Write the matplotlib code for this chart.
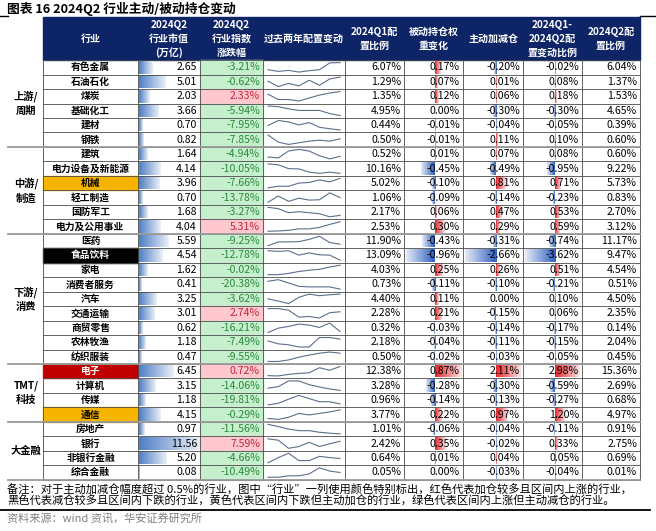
import numpy as np
import matplotlib
matplotlib.use("Agg")
import matplotlib.pyplot as plt
from matplotlib.colors import to_rgb

plt.rcParams['font.family'] = ['Noto Sans CJK SC', 'DejaVu Sans']

# -------------------------------------------------------
# Data
# -------------------------------------------------------

groups = ["上游/\n周期", "中游/\n制造", "下游/\n消费", "TMT/\n科技", "大金融"]
group_sizes = [6, 6, 9, 4, 4]

industries = ["有色金属", "石油石化", "煤炭", "基础化工", "建材", "钢铁",
              "建筑", "电力设备及新能源", "机械", "轻工制造", "国防军工", "电力及公用事业",
              "医药", "食品饮料", "家电", "消费者服务", "汽车", "交通运输",
              "商贸零售", "农林牧渔", "纺织服装",
              "电子", "计算机", "传媒", "通信",
              "房地产", "银行", "非银行金融", "综合金融"]

mkt_cap = [2.65, 5.01, 2.03, 3.66, 0.70, 0.82,
           1.64, 4.14, 3.96, 0.70, 1.68, 4.04,
           5.59, 4.54, 1.62, 0.41, 3.25, 3.01, 0.62, 1.18, 0.47,
           6.45, 3.15, 1.18, 4.15,
           0.97, 11.56, 5.20, 0.08]

index_chg = [-3.21, -0.62, 2.33, -5.94, -7.95, -7.85,
             -4.94, -10.05, -7.66, -13.78, -3.27, 5.31,
             -9.25, -12.78, -0.02, -20.38, -3.62, 2.74, -16.21, -7.49, -9.55,
             0.72, -14.06, -19.81, -0.29,
             -11.56, 7.59, -4.66, -10.49]

w_q1 = [6.07, 1.29, 1.35, 4.95, 0.44, 0.50,
        0.52, 10.16, 5.02, 1.06, 2.17, 2.53,
        11.90, 13.09, 4.03, 0.73, 4.40, 2.28, 0.32, 2.18, 0.50,
        12.38, 3.28, 0.96, 3.77,
        1.01, 2.42, 0.64, 0.05]

passive = [0.17, 0.07, 0.12, 0.00, -0.01, -0.01,
           0.01, -0.45, -0.10, -0.09, 0.06, 0.30,
           -0.43, -0.96, 0.25, -0.11, 0.11, 0.21, -0.03, -0.04, -0.02,
           0.87, -0.28, -0.14, 0.22,
           -0.06, 0.35, 0.01, 0.00]

active = [-0.20, 0.01, 0.06, -0.30, -0.04, 0.11,
          0.07, -0.49, 0.81, -0.14, 0.47, 0.29,
          -0.31, -2.66, 0.26, -0.10, 0.00, -0.15, -0.14, -0.11, -0.03,
          2.11, -0.30, -0.13, 0.97,
          -0.04, -0.02, 0.04, -0.03]

total_chg = [-0.02, 0.08, 0.18, -0.30, -0.05, 0.10,
             0.08, -0.95, 0.71, -0.23, 0.53, 0.59,
             -0.74, -3.62, 0.51, -0.21, 0.10, 0.06, -0.17, -0.15, -0.05,
             2.98, -0.59, -0.27, 1.20,
             -0.11, 0.33, 0.05, -0.04]

w_q2 = [6.04, 1.37, 1.53, 4.65, 0.39, 0.60,
        0.60, 9.22, 5.73, 0.83, 2.70, 3.12,
        11.17, 9.47, 4.54, 0.51, 4.50, 2.35, 0.14, 2.04, 0.45,
        15.36, 2.69, 0.68, 4.97,
        0.91, 2.75, 0.69, 0.01]

# relative allocation path over the past two years (sparkline, autoscaled per row)
spark = [
    [1.6, 1.1, 1.4, 0.9, 1.3, 1.6, 3.6, 3.7],
    [2.5, 0.8, 1.8, 1.0, 2.8, 1.2, 3.2, 3.8],
    [3.1, 1.3, 1.3, 0.8, 1.8, 2.8, 3.5, 4.0],
    [3.8, 3.6, 2.9, 2.4, 2.4, 2.4, 1.4, 0.8],
    [2.1, 3.8, 3.3, 2.3, 3.1, 1.5, 1.0, 0.6],
    [3.6, 1.4, 0.7, 1.2, 1.7, 2.0, 1.7, 2.4],
    [1.3, 1.0, 3.2, 3.7, 3.2, 1.7, 0.7, 1.5],
    [3.6, 3.3, 2.1, 2.0, 1.0, 0.6, 1.0, 0.6],
    [0.3, 0.8, 0.8, 1.8, 2.0, 2.8, 2.2, 3.3],
    [0.3, 2.3, 0.6, 1.6, 1.0, 1.1, 3.3, 1.8],
    [3.2, 2.8, 1.6, 1.9, 1.6, 1.3, 0.4, 0.8],
    [0.2, 0.3, 0.5, 1.0, 1.0, 1.5, 2.5, 3.4],
    [1.0, 2.2, 2.2, 2.3, 3.0, 4.0, 2.0, 1.5],
    [3.8, 3.6, 3.8, 2.4, 3.1, 2.5, 2.4, 0.8],
    [0.9, 0.9, 1.3, 1.9, 2.3, 2.6, 3.3, 3.9],
    [3.2, 3.8, 2.6, 1.4, 1.2, 1.2, 1.2, 0.4],
    [2.2, 1.5, 0.7, 2.7, 3.7, 3.2, 3.5, 3.7],
    [3.5, 3.5, 3.0, 0.8, 1.0, 0.5, 2.2, 2.5],
    [0.8, 2.1, 2.6, 3.3, 3.0, 2.3, 3.6, 1.1],
    [2.3, 1.4, 1.1, 0.4, 0.4, 3.4, 3.4, 2.9],
    [0.2, 0.2, 0.7, 1.6, 2.3, 2.9, 3.3, 2.9],
    [0.5, 0.4, 0.9, 1.2, 1.4, 3.0, 2.2, 3.4],
    [0.8, 1.3, 3.3, 3.3, 2.0, 1.2, 0.5, 0.0],
    [0.3, 0.8, 2.1, 3.3, 2.3, 1.3, 1.3, 0.6],
    [0.8, 0.5, 1.2, 2.5, 2.0, 2.5, 3.0, 3.7],
    [3.3, 2.6, 1.8, 1.3, 1.3, 0.8, 0.5, 0.3],
    [3.7, 3.3, 1.0, 1.5, 2.7, 1.5, 2.3, 3.0],
    [0.8, 2.0, 3.0, 1.3, 1.3, 2.3, 2.0, 1.8],
    [1.5, 1.5, 1.8, 1.8, 2.2, 3.5, 2.8, 2.5],
]

highlight = {
    "机械": ("#f4b400", "black"),
    "食品饮料": ("black", "white"),
    "电子": ("#c00000", "white"),
    "通信": ("#f4b400", "black"),
}

headers = ["行业", "2024Q2\n行业市值\n(万亿)", "2024Q2\n行业指数\n涨跌幅", "过去两年配置变动",
           "2024Q1配\n置比例", "被动持仓权\n重变化", "主动加减仓",
           "2024Q1-\n2024Q2配\n置变动比例", "2024Q2配\n置比例"]

title = "图表 16 2024Q2 行业主动/被动持仓变动"
note1 = "备注：对于主动加减仓幅度超过 0.5%的行业，图中“行业”一列使用颜色特别标出，红色代表加仓较多且区间内上涨的行业，"
note2 = "黑色代表减仓较多且区间内下跌的行业，黄色代表区间内下跌但主动加仓的行业，绿色代表区间内上涨但主动减仓的行业。"
source = "资料来源：wind 资讯，华安证券研究所"

# -------------------------------------------------------
# Layout (pixel units)
# -------------------------------------------------------

W, H = 656, 531
edges = [43, 138, 200, 263, 345, 404, 463, 523, 582, 640]
head_top, head_bot = 17, 60
row_top = 60.1
row_h = 14.47
n = len(industries)

NAVY = "#0d2466"
LINE = "#4a4a4a"
FS = 7.6


def row_y(i):
    return row_top + i * row_h


def grad_bar(ax, x0, x1, y0, y1, color, fade_to_right=True):
    # excel style gradient data bar
    if abs(x1 - x0) < 0.6:
        x1 = x0 + (0.6 if x1 >= x0 else -0.6)
    c = np.array(to_rgb(color))
    t = np.linspace(0, 1, 64)
    if not fade_to_right:
        t = t[::-1]
    light = 0.88
    rgb = c[None, :] * (1 - light * t[:, None]) + light * t[:, None]
    img = rgb[None, :, :]
    left, right = min(x0, x1), max(x0, x1)
    ax.imshow(img, extent=(left, right, y1, y0), aspect="auto",
              interpolation="bilinear", zorder=2)


fig = plt.figure(figsize=(W / 100, H / 100), dpi=100)
ax = fig.add_axes([0, 0, 1, 1])
ax.axis("off")

# title
ax.text(7, 9, title, fontsize=9.2, fontweight="bold", va="center", ha="left")
ax.plot([0, 8], [15.5, 15.5], color="black", lw=1.0)
ax.plot([640, 656], [15.5, 15.5], color="black", lw=1.0)

# header
ax.add_patch(plt.Rectangle((edges[0], head_top), edges[-1] - edges[0],
                           head_bot - head_top, color=NAVY, zorder=1))
for k, h in enumerate(headers):
    cx = (edges[k] + edges[k + 1]) / 2
    ax.text(cx, (head_top + head_bot) / 2 + 0.5, h, color="white", fontsize=7.2,
            fontweight="bold", ha="center", va="center", linespacing=1.45, zorder=3)

# group labels
start = 0
for g, size in zip(groups, group_sizes):
    cy = row_y(start) + size * row_h / 2
    ax.text(26, cy, g, fontsize=7.4, fontweight="bold", ha="center", va="center",
            linespacing=1.5)
    start += size

cap_max = max(mkt_cap)

for i in range(n):
    y0 = row_y(i)
    y1 = y0 + row_h
    cy = (y0 + y1) / 2

    # industry name
    name = industries[i]
    fc, tc = highlight.get(name, (None, "black"))
    if fc is not None:
        ax.add_patch(plt.Rectangle((edges[0], y0), edges[1] - edges[0], row_h,
                                   color=fc, zorder=1))
    ax.text((edges[0] + edges[1]) / 2, cy, name, fontsize=7.0, fontweight="bold",
            color=tc, ha="center", va="center", zorder=3)

    # market cap data bar
    bw = (edges[2] - edges[1] - 1) * mkt_cap[i] / cap_max
    grad_bar(ax, edges[1] + 0.5, edges[1] + 0.5 + bw, y0 + 1, y1 - 1, "#4f7fc4")
    ax.text(edges[2] - 3, cy, f"{mkt_cap[i]:.2f}", fontsize=FS, ha="right",
            va="center", zorder=3)

    # index change with conditional fill
    up = index_chg[i] > 0
    ax.add_patch(plt.Rectangle((edges[2], y0), edges[3] - edges[2], row_h,
                               color="#ffc7ce" if up else "#c6efce", zorder=1))
    ax.text(edges[3] - 3, cy, f"{index_chg[i]:.2f}%", fontsize=FS,
            color="#c0283c" if up else "#2a8a3a", ha="right", va="center", zorder=3)

    # sparkline
    s = np.array(spark[i], dtype=float)
    xs = np.linspace(edges[3] + 5, edges[4] - 5, len(s))
    sn = (s - s.min()) / (s.max() - s.min())
    ys = (y1 - 2.5) - sn * (row_h - 5)
    ax.plot(xs, ys, color="#5b6e8c", lw=0.8, zorder=3)

    # plain percentages
    ax.text(edges[5] - 3, cy, f"{w_q1[i]:.2f}%", fontsize=FS, ha="right",
            va="center", zorder=3)
    ax.text(edges[9] - 3, cy, f"{w_q2[i]:.2f}%", fontsize=FS, ha="right",
            va="center", zorder=3)

# diverging data bars
for col, vals in zip([5, 6, 7], [passive, active, total_chg]):
    left = edges[col] + 2
    right = edges[col + 1] - 2
    mn = min(min(vals), 0)
    mx = max(max(vals), 0)
    scale = (right - left) / (mx - mn)
    axis_x = left - mn * scale
    for i, v in enumerate(vals):
        y0 = row_y(i)
        y1 = y0 + row_h
        if v > 0:
            grad_bar(ax, axis_x, axis_x + v * scale, y0 + 1, y1 - 1, "#e8262c", True)
        elif v < 0:
            grad_bar(ax, axis_x + v * scale, axis_x, y0 + 1, y1 - 1, "#2f5fc0", False)
        ax.text(edges[col + 1] - 3, (y0 + y1) / 2, f"{v:.2f}%", fontsize=FS,
                ha="right", va="center", zorder=3)

# grid lines
table_bot = row_y(n)
for i in range(n + 1):
    ax.plot([edges[0], edges[-1]], [row_y(i), row_y(i)], color=LINE, lw=0.6, zorder=4)
for x in edges:
    ax.plot([x, x], [head_bot, table_bot], color=LINE, lw=0.6, zorder=4)
bounds = np.cumsum([0] + group_sizes)
for b in bounds[1:]:
    ax.plot([8, edges[-1]], [row_y(b), row_y(b)], color="#9a9a9a", lw=1.3, zorder=5)

# notes
ax.text(7, 490, note1, fontsize=8.1, ha="left", va="center")
ax.text(7, 501.5, note2, fontsize=8.1, ha="left", va="center")
ax.plot([0, 650], [509.5, 509.5], color="black", lw=1.3)
ax.text(7, 519, source, fontsize=8.0, color="#808080", ha="left", va="center")

ax.set_xlim(0, W)
ax.set_ylim(H, 0)

fig.savefig("out.png", dpi=100)
